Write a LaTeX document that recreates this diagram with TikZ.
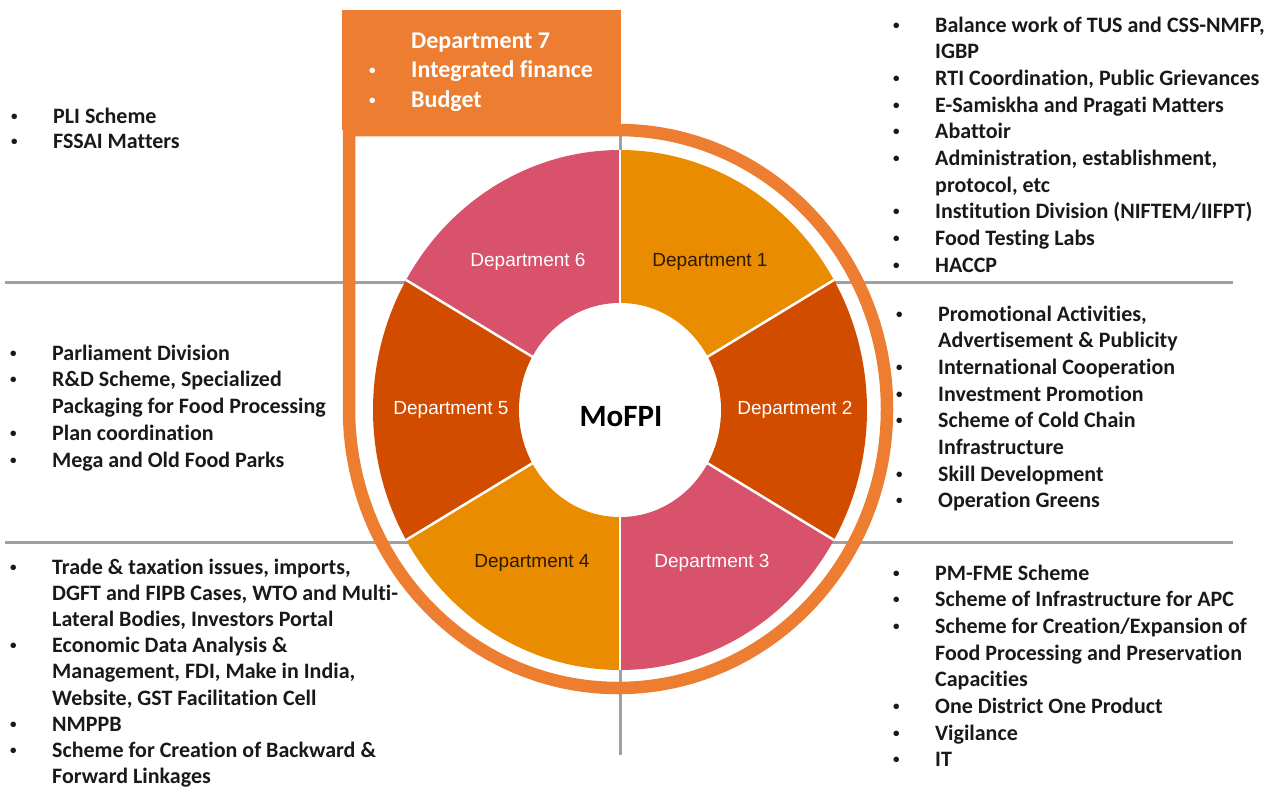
\documentclass[tikz,border=0pt]{standalone}
\usepackage{fontspec}
\setmainfont{Carlito}[Ligatures=NoCommon]
\newfontfamily\arialfont{Liberation Sans}
\usepackage{tikz}
\usetikzlibrary{calc}

\definecolor{ringorange}{RGB}{237,125,49}
\definecolor{deptamber}{RGB}{234,140,0}
\definecolor{deptrust}{RGB}{210,76,0}
\definecolor{deptrose}{RGB}{216,82,108}
\definecolor{gridgray}{RGB}{160,160,160}
\definecolor{darklabel}{RGB}{45,25,0}

% small bullet hung in front of the text
\newcommand\itm{\llap{\makebox[42pt][l]{\raisebox{3pt}{\fontsize{13}{13}\selectfont •}}}}
% one text line per node: name, x, first baseline, line step, lines
\newcommand\deptlist[6][]{%
  \foreach \itemtext [count=\k from 0] in {#6}
    \node[listline,#1] (#2-\k) at (#3, {#4+#5*\k}) {\itemtext};}

\tikzset{
  listline/.style={anchor=base west, inner sep=0, text=black!90,
    font=\bfseries\fontsize{22}{26}\selectfont},
  boxline/.style={text=white, font=\bfseries\fontsize{24}{28}\selectfont},
  deptlabel/.style={inner sep=0, font=\arialfont\fontsize{19}{22}\selectfont},
  gridline/.style={gridgray, line width=3pt}
}

\begin{document}
\begin{tikzpicture}[x=1pt, y=-1pt]
        \useasboundingbox (0,0) rectangle (1277,787);
        \coordinate (c) at (620,410);
        \coordinate (L1) at (5,282);
        \coordinate (R1) at (1233,282);
        \coordinate (L2) at (5,542);
        \coordinate (R2) at (1233,542);
        \coordinate (T) at (620,130);
        \coordinate (B) at (620,755);
% grid lines behind the wheel
\draw[gridline] (L1)--(R1);
\draw[gridline] (L2)--(R2);
\draw[gridline] (T)--(B);
% six sectors of the wheel
\foreach \a/\b/\col in {-90/-30/deptamber, -30/30/deptrust, 30/90/deptrose,
  90/150/deptamber, 150/210/deptrust, 210/270/deptrose}
  \fill[\col] (c) -- ++(\a:247 and 260) arc[start angle=\a, end angle=\b,
    x radius=247, y radius=260] -- cycle;
\foreach \a in {-90,-30,...,210}
  \draw[white, line width=2.5pt] (c) -- ++(\a:247 and 260);
\fill[white] (c) ellipse[x radius=101, y radius=107];
\node[inner sep=0, font=\bfseries\fontsize{31}{36}\selectfont] (mofpi) at (621,417) {MoFPI};
% sector labels
\node[deptlabel, text=darklabel] (d1) at (710,262) {Department 1};
\node[deptlabel, text=white] (d2) at (795,410) {Department 2};
\node[deptlabel, text=white] (d3) at (712,563) {Department 3};
\node[deptlabel, text=darklabel] (d4) at (532,563) {Department 4};
\node[deptlabel, text=white] (d5) at (451,410) {Department 5};
\node[deptlabel, text=white] (d6) at (528,262) {Department 6};
% orange frame round the wheel and the top box
\draw[ringorange, line width=12.5pt] (349,130) -- (349,409)
  arc[start angle=180, end angle=-90, x radius=269, y radius=279] -- cycle;
\fill[ringorange] (342,10) rectangle (621,130);
\deptlist[boxline]{dept7}{411}{48}{29.5}{{Department 7}, {\itm Integrated finance}, {\itm Budget}}
% work lists
\deptlist{rtop}{935}{32}{26.7}{{\itm Balance work of TUS and CSS-NMFP,}, {IGBP},
  {\itm RTI Coordination, Public Grievances}, {\itm E-Samiskha and Pragati Matters},
  {\itm Abattoir}, {\itm Administration, establishment,}, {protocol, etc},
  {\itm Institution Division (NIFTEM/IIFPT)}, {\itm Food Testing Labs}, {\itm HACCP}}
\deptlist{rmid}{938}{321}{26.7}{{\itm Promotional Activities,}, {Advertisement \& Publicity},
  {\itm International Cooperation}, {\itm Investment Promotion},
  {\itm Scheme of Cold Chain}, {Infrastructure}, {\itm Skill Development},
  {\itm Operation Greens}}
\deptlist{rbot}{935}{580}{26.7}{{\itm PM-FME Scheme}, {\itm Scheme of Infrastructure for APC},
  {\itm Scheme for Creation/Expansion of}, {Food Processing and Preservation},
  {Capacities}, {\itm One District One Product}, {\itm Vigilance}, {\itm IT}}
\deptlist{ltop}{53}{123}{25}{{\itm PLI Scheme}, {\itm FSSAI Matters}}
\deptlist{lmid}{52}{360}{26.75}{{\itm Parliament Division}, {\itm R\&D Scheme, Specialized},
  {Packaging for Food Processing}, {\itm Plan coordination}, {\itm Mega and Old Food Parks}}
\deptlist{lbot}{52}{574}{26.2}{{\itm Trade \& taxation issues, imports,},
  {DGFT and FIPB Cases, WTO and Multi-}, {Lateral Bodies, Investors Portal},
  {\itm Economic Data Analysis \&}, {Management, FDI, Make in India,},
  {Website, GST Facilitation Cell}, {\itm NMPPB},
  {\itm Scheme for Creation of Backward \&}, {Forward Linkages}}
\end{tikzpicture}
\end{document}
